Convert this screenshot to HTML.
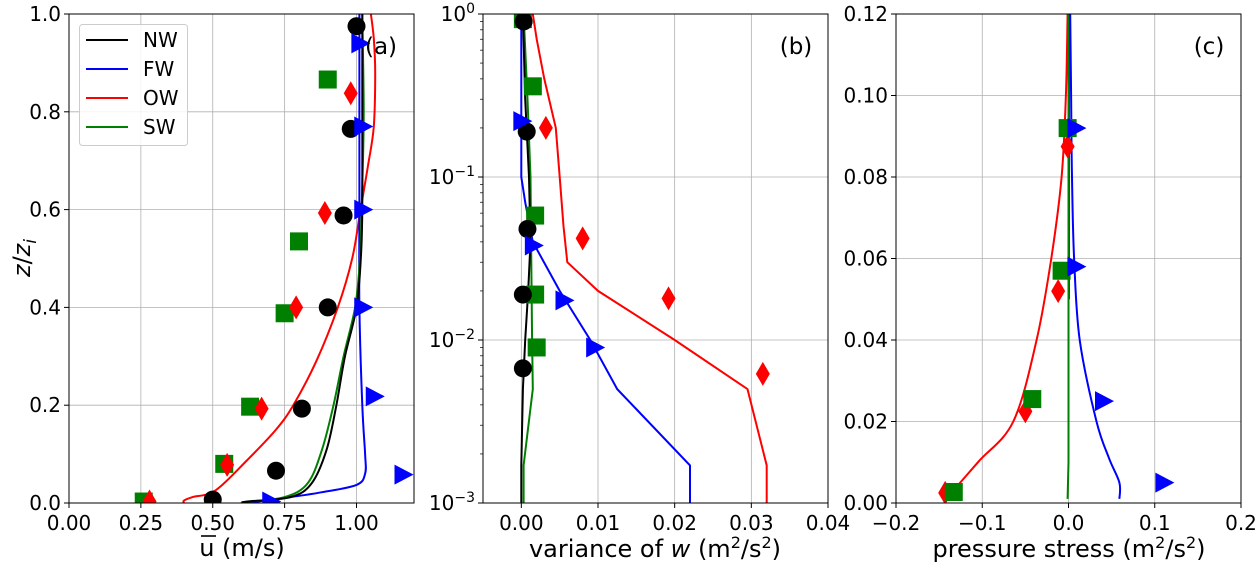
<!DOCTYPE html>
<html><head><meta charset="utf-8"><style>
html,body{margin:0;padding:0;background:#fff;}
svg{display:block;font-family:"DejaVu Sans","Liberation Sans",sans-serif;}
</style></head><body>
<svg id="fig" width="1256" height="568" viewBox="0 0 1256 568" xmlns="http://www.w3.org/2000/svg"></svg>
<script>
// ---------- Panel (a) data ----------
const aNWline=[[0.60,0],[0.62,0.003],[0.77,0.012],[0.844,0.04],[0.896,0.109],[0.93,0.2],[0.96,0.3],[1.0,0.4],[1.015,0.5],[1.02,0.6],[1.02,0.8],[1.02,1.0]];
const aSWline=[[0.61,0],[0.63,0.003],[0.75,0.012],[0.83,0.04],[0.88,0.109],[0.92,0.2],[0.955,0.3],[0.995,0.4],[1.012,0.5],[1.02,0.65],[1.025,0.8],[1.02,1.0]];
const aFWline=[[0.62,0],[0.68,0.005],[0.77,0.012],[0.88,0.022],[1.0,0.037],[1.03,0.06],[1.03,0.1],[1.02,0.2],[1.01,0.4],[1.01,0.6],[1.01,0.8],[1.01,1.0]];
const aOWline=[[0.40,0],[0.40,0.005],[0.43,0.012],[0.51,0.026],[0.62,0.088],[0.72,0.15],[0.78,0.2],[0.86,0.29],[0.935,0.4],[0.985,0.5],[1.014,0.6],[1.04,0.69],[1.06,0.77],[1.065,0.88],[1.06,0.95],[1.05,1.0]];
const aNWpts=[[1.00,0.975],[0.98,0.765],[0.955,0.588],[0.90,0.40],[0.81,0.193],[0.72,0.066],[0.50,0.007]];
const aFWpts=[[1.01,0.94],[1.02,0.77],[1.02,0.60],[1.02,0.40],[1.06,0.218],[1.16,0.058],[0.70,0.003]];
const aOWpts=[[0.98,0.838],[0.89,0.593],[0.79,0.40],[0.67,0.193],[0.55,0.078],[0.28,0.003]];
const aSWpts=[[0.90,0.866],[0.80,0.535],[0.75,0.388],[0.63,0.197],[0.54,0.08],[0.26,0.003]];
const aXticks=[0,0.25,0.5,0.75,1.0];
const aXlabels=["0.00","0.25","0.50","0.75","1.00"];
const aYticks=[0,0.2,0.4,0.6,0.8,1.0];
const aYlabels=["0.0","0.2","0.4","0.6","0.8","1.0"];
// ---------- Panel (b) data ----------
const bNWline=[[0,0.001],[0,0.0017],[0.0002,0.005],[0.0005,0.01],[0.0009,0.02],[0.0012,0.04],[0.001,0.1],[0.0005,0.3],[0.0002,1]];
const bSWline=[[0.0003,0.001],[0.0003,0.0017],[0.0015,0.005],[0.0014,0.01],[0.0013,0.03],[0.0012,0.1],[0.0008,0.3],[0.0003,1]];
const bFWline=[[0.022,0.001],[0.022,0.0017],[0.0125,0.005],[0.009,0.01],[0.005,0.02],[0.0015,0.04],[0.0005,0.07],[0.0,0.1],[0,0.3],[0,1]];
const bOWline=[[0.032,0.001],[0.032,0.0017],[0.0295,0.005],[0.02,0.01],[0.01,0.02],[0.006,0.03],[0.0055,0.05],[0.005,0.1],[0.0045,0.2],[0.003,0.4],[0.002,0.7],[0.0015,1]];
const bNWpts=[[0.0003,0.9],[0.0007,0.19],[0.0008,0.048],[0.0002,0.019],[0.0002,0.0067]];
const bFWpts=[[0.0,0.22],[0.0015,0.038],[0.0055,0.0175],[0.0095,0.009]];
const bOWpts=[[0.0032,0.2],[0.008,0.042],[0.0192,0.018],[0.0315,0.0062]];
const bSWpts=[[0.0002,0.93],[0.0015,0.36],[0.0018,0.058],[0.0018,0.019],[0.002,0.009]];
const bXticks=[0,0.01,0.02,0.03,0.04];
const bXlabels=["0.00","0.01","0.02","0.03","0.04"];
const bYexp=[0,-1,-2,-3];
// ---------- Panel (c) data ----------
const cOWline=[[-0.142,0.001],[-0.105,0.01],[-0.064,0.02],[-0.037,0.04],[-0.02,0.06],[-0.008,0.08],[-0.003,0.1],[-0.001,0.12]];
const cFWline=[[0.059,0.001],[0.059,0.005],[0.047,0.011],[0.0325,0.02],[0.013,0.04],[0.0065,0.06],[0.004,0.08],[0.003,0.1],[0.002,0.12]];
const cSWline=[[-0.001,0.001],[0,0.01],[0,0.12]];
const cNWline=[[0.0005,0.05],[0.0005,0.12]];
const cOWpts=[[-0.001,0.0875],[-0.012,0.052],[-0.05,0.0225],[-0.143,0.0025]];
const cSWpts=[[-0.001,0.092],[-0.008,0.057],[-0.042,0.0255],[-0.133,0.0027]];
const cFWpts=[[0.008,0.092],[0.008,0.058],[0.04,0.025],[0.11,0.005]];
const cXticks=[-0.2,-0.1,0,0.1,0.2];
const cXlabels=["\u22120.2","\u22120.1","0.0","0.1","0.2"];
const cYticks=[0,0.02,0.04,0.06,0.08,0.1,0.12];
const cYlabels=["0.00","0.02","0.04","0.06","0.08","0.10","0.12"];

const NS="http://www.w3.org/2000/svg";
const fig=document.getElementById('fig');
function mk(tag,attrs,parent){const e=document.createElementNS(NS,tag);for(const k in attrs)e.setAttribute(k,attrs[k]);(parent||fig).appendChild(e);return e;}
const TOP=14,BOT=503,FS=20;
const C={NW:"#000000",FW:"#0000ff",OW:"#ff0000",SW:"#008000"};

function panel(id,L,R,xs,ys){
  const g=mk('g',{});
  
  
  const cp=mk('clipPath',{id:'clip'+id},g);
  mk('rect',{x:L,y:TOP,width:R-L,height:BOT-TOP},cp);
  return {g,L,R,xs,ys,id};
}
function grid(p,xt,yt){
  xt.forEach(v=>{const l=mk('line',{x1:p.xs(v),x2:p.xs(v),y1:TOP,y2:BOT,stroke:'#b0b0b0','stroke-width':0.8},p.g);});
  yt.forEach(v=>{const l=mk('line',{x1:p.L,x2:p.R,y1:p.ys(v),y2:p.ys(v),stroke:'#b0b0b0','stroke-width':0.8},p.g);});
}
function line(p,data,col,name,smooth){
  const P=data.map(q=>[p.xs(q[0]),p.ys(q[1])]);
  let d='M'+P[0][0].toFixed(1)+','+P[0][1].toFixed(1);
  for(let i=0;i<P.length-1;i++){
    if(!smooth){d+='L'+P[i+1][0].toFixed(1)+','+P[i+1][1].toFixed(1);continue;}
    const p0=P[Math.max(i-1,0)],p1=P[i],p2=P[i+1],p3=P[Math.min(i+2,P.length-1)];
    const c1=[p1[0]+(p2[0]-p0[0])/6,p1[1]+(p2[1]-p0[1])/6],c2=[p2[0]-(p3[0]-p1[0])/6,p2[1]-(p3[1]-p1[1])/6];
    d+='C'+c1[0].toFixed(1)+','+c1[1].toFixed(1)+' '+c2[0].toFixed(1)+','+c2[1].toFixed(1)+' '+p2[0].toFixed(1)+','+p2[1].toFixed(1);
  }
  const e=mk('path',{d:d,fill:'none',stroke:col,'stroke-width':2,'clip-path':'url(#clip'+p.id+')'},p.g);
  
  
}
function markers(p,data,kind,col,name){
  data.forEach(q=>{
    const x=p.xs(q[0]),y=p.ys(q[1]);let e;
    if(kind==='o')e=mk('circle',{cx:x,cy:y,r:9,fill:col},p.g);
    else if(kind==='s')e=mk('rect',{x:x-9,y:y-9,width:18,height:18,fill:col},p.g);
    else if(kind==='d')e=mk('polygon',{points:`${x},${y-12} ${x+7},${y} ${x},${y+12} ${x-7},${y}`,fill:col},p.g);
    else e=mk('polygon',{points:`${x-8},${y-10} ${x+11},${y} ${x-8},${y+10}`,fill:col},p.g);
    e.setAttribute('clip-path','url(#clip'+p.id+')');
    
    
  });
}
function frame(p){const r=mk('rect',{x:p.L,y:TOP,width:p.R-p.L,height:BOT-TOP,fill:'none',stroke:'#000','stroke-width':1},p.g);}
function xlab(p,ticks,labels){
  ticks.forEach((v,i)=>{const x=p.xs(v);mk('line',{x1:x,x2:x,y1:BOT,y2:BOT+5,stroke:'#000'},p.g);
    const t=mk('text',{x:x,y:BOT+27,'font-size':FS,'text-anchor':'middle'},p.g);t.textContent=labels[i];
    });
}
function ylab(p,ticks,labels){
  ticks.forEach((v,i)=>{const y=p.ys(v);mk('line',{x1:p.L-5,x2:p.L,y1:y,y2:y,stroke:'#000'},p.g);
    const t=mk('text',{x:p.L-8,y:y+7,'font-size':FS,'text-anchor':'end'},p.g);t.textContent=labels[i];
    });
}
function txt(p,x,y,s,size,name,anchor){const t=mk('text',{x:x,y:y,'font-size':size,'text-anchor':anchor||'middle'},p.g);t.textContent=s;return t;}

// Panel a
const pa=panel('a',69,414,v=>69+(v/1.2)*345,v=>BOT-v*(BOT-TOP));
grid(pa,aXticks,aYticks);
line(pa,aOWline,C.OW,'ow-line',true);line(pa,aFWline,C.FW,'fw-line',true);line(pa,aSWline,C.SW,'sw-line',true);line(pa,aNWline,C.NW,'nw-line',true);
markers(pa,aSWpts,'s',C.SW,'sw-marker');markers(pa,aOWpts,'d',C.OW,'ow-marker');markers(pa,aNWpts,'o',C.NW,'nw-marker');markers(pa,aFWpts,'t',C.FW,'fw-marker');
frame(pa);xlab(pa,aXticks,aXlabels);ylab(pa,aYticks,aYlabels);
txt(pa,381,54,'(a)',23,'panel-a-label');
txt(pa,242,556,'u (m/s)',24,'x-axis-title-a');
{const o=mk('line',{x1:201,x2:216,y1:536,y2:536,stroke:'#000','stroke-width':1.6},pa.g);}
{const t=mk('text',{x:0,y:0,'font-size':24,'text-anchor':'middle',transform:'translate(30,258) rotate(-90)'},pa.g);t.innerHTML='<tspan font-style="italic">z</tspan>/<tspan font-style="italic">z</tspan><tspan font-size="17" dy="6" font-style="italic">i</tspan>';}
// legend
{const lg=mk('g',{},pa.g);
 mk('rect',{x:79.5,y:24.5,width:108,height:121,rx:3,fill:'#fff',stroke:'#ccc','fill-opacity':0.85},lg);
 [['NW',C.NW],['FW',C.FW],['OW',C.OW],['SW',C.SW]].forEach((e,i)=>{const y=40+i*29;
  mk('line',{x1:86,x2:128,y1:y,y2:y,stroke:e[1],'stroke-width':2},lg);
  const t=mk('text',{x:143,y:y+7,'font-size':FS},lg);t.textContent=e[0];});}

// Panel b
const bl=v=>TOP+(-Math.log10(v))*163;
const pb=panel('b',483,828,v=>483+(v+0.005)/0.045*345,bl);
grid(pb,bXticks,bYexp.map(e=>Math.pow(10,e)));
line(pb,bOWline,C.OW,'ow-line');line(pb,bFWline,C.FW,'fw-line');line(pb,bSWline,C.SW,'sw-line');line(pb,bNWline,C.NW,'nw-line');
markers(pb,bSWpts,'s',C.SW,'sw-marker');markers(pb,bOWpts,'d',C.OW,'ow-marker');markers(pb,bNWpts,'o',C.NW,'nw-marker');markers(pb,bFWpts,'t',C.FW,'fw-marker');
frame(pb);xlab(pb,bXticks,bXlabels);
bYexp.forEach(e=>{const y=bl(Math.pow(10,e));mk('line',{x1:478,x2:483,y1:y,y2:y,stroke:'#000'},pb.g);
  const t=mk('text',{x:475,y:y+7,'font-size':FS,'text-anchor':'end'},pb.g);t.innerHTML='10<tspan font-size="14" dy="-8">'+(e<0?'\u2212'+(-e):e)+'</tspan>';});
bYexp.slice(1).forEach(e=>{for(let k=2;k<10;k++){const y=bl(k*Math.pow(10,e));mk('line',{x1:480,x2:483,y1:y,y2:y,stroke:'#000','stroke-width':0.7},pb.g);}});
txt(pb,796,54,'(b)',23,'panel-b-label');
{const t=mk('text',{x:655,y:557,'font-size':24,'text-anchor':'middle'},pb.g);t.innerHTML='variance of <tspan font-style="italic">w</tspan> (m<tspan font-size="16" dy="-9">2</tspan><tspan dy="9">/s</tspan><tspan font-size="16" dy="-9">2</tspan><tspan dy="9">)</tspan>';}

// Panel c
const pc=panel('c',896,1241,v=>896+(v+0.2)/0.4*345,v=>BOT-v/0.12*(BOT-TOP));
grid(pc,cXticks,cYticks);
line(pc,cOWline,C.OW,'ow-line',true);line(pc,cFWline,C.FW,'fw-line',true);line(pc,cNWline,C.NW,'nw-line');line(pc,cSWline,C.SW,'sw-line');
markers(pc,cOWpts,'d',C.OW,'ow-marker');markers(pc,cSWpts,'s',C.SW,'sw-marker');markers(pc,cFWpts,'t',C.FW,'fw-marker');
frame(pc);xlab(pc,cXticks,cXlabels);ylab(pc,cYticks,cYlabels);
txt(pc,1209,54,'(c)',23,'panel-c-label');
{const t=mk('text',{x:1069,y:557,'font-size':24,'text-anchor':'middle'},pc.g);t.innerHTML='pressure stress (m<tspan font-size="16" dy="-9">2</tspan><tspan dy="9">/s</tspan><tspan font-size="16" dy="-9">2</tspan><tspan dy="9">)</tspan>';}
</script>
</body></html>
